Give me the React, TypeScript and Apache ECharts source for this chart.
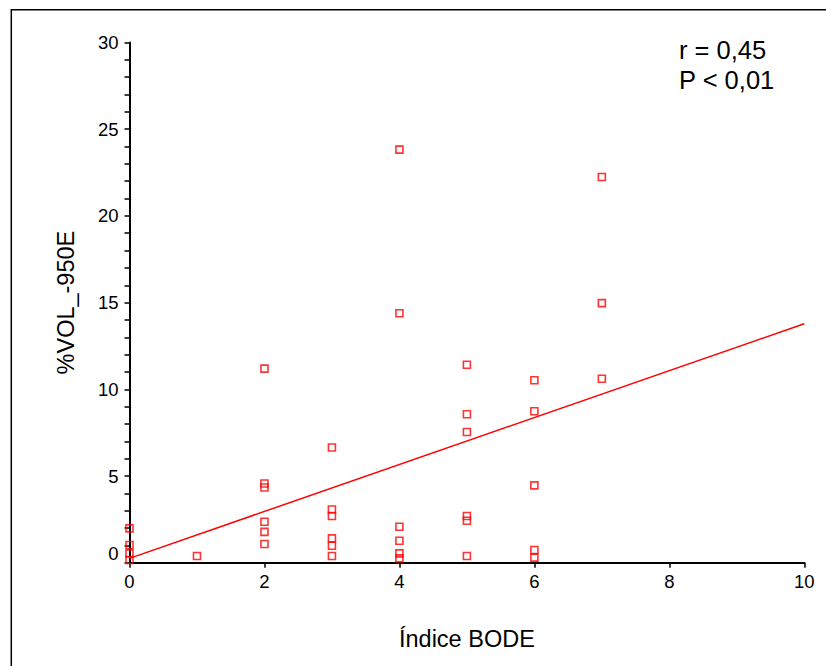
import React, { useEffect, useRef } from "react";
import * as echarts from "echarts";

// Índice BODE (x) and %VOL_-950E (y), one entry per patient
const bodeScores = [
  0, 0, 0, 0,
  1,
  2, 2, 2, 2, 2, 2,
  3, 3, 3, 3, 3, 3,
  4, 4, 4, 4, 4, 4,
  5, 5, 5, 5, 5, 5,
  6, 6, 6, 6, 6,
  7, 7, 7,
];
const volPercent = [
  1.98, 1.02, 0.54, 0.16,
  0.39,
  11.19, 4.57, 4.34, 2.36, 1.78, 1.08,
  6.64, 3.07, 2.69, 1.4, 0.98, 0.39,
  23.82, 14.39, 2.07, 1.27, 0.54, 0.25,
  11.42, 8.56, 7.54, 2.69, 2.42, 0.39,
  10.52, 8.73, 4.46, 0.73, 0.29,
  22.24, 14.97, 10.61,
];

// regression line end points
const fitX = [0, 10];
const fitY = [0.25, 13.78];

const statLines = ["r = 0,45", "P < 0,01"];
const xTitle = "Índice BODE";
const yTitle = "%VOL_-950E";

const FONT = "'Liberation Sans', Arial, sans-serif";

export default function App() {
  const ref = useRef<HTMLDivElement>(null);
  useEffect(() => {
    if (!ref.current) return;
    const chart = echarts.init(ref.current, undefined, { renderer: "svg" });
    const points = bodeScores.map((x, i) => [x, volPercent[i]]);
    const fit = fitX.map((x, i) => [x, fitY[i]]);
    chart.setOption({
      animation: false,
      backgroundColor: "#ffffff",
      grid: { left: 129.5, right: 21.7, top: 42.5, bottom: 103.3, containLabel: false },
      xAxis: {
        type: "value",
        min: 0,
        max: 10,
        interval: 2,
        name: xTitle,
        nameLocation: "middle",
        nameGap: 64,
        nameTextStyle: { fontSize: 23.5, color: "#000", fontFamily: FONT },
        axisLine: { show: true, onZero: false, lineStyle: { color: "#000", width: 2 } },
        axisTick: { show: true, length: 5, lineStyle: { color: "#000", width: 1.5 } },
        axisLabel: { fontSize: 18.5, color: "#000", fontFamily: FONT, margin: 9 },
        splitLine: { show: false },
      },
      yAxis: {
        type: "value",
        min: 0,
        max: 30,
        interval: 5,
        name: yTitle,
        nameLocation: "middle",
        nameGap: 52,
        nameTextStyle: { fontSize: 23.5, color: "#000", fontFamily: FONT },
        axisLine: { show: true, onZero: false, lineStyle: { color: "#000", width: 2 } },
        axisTick: { show: true, length: 5, lineStyle: { color: "#000", width: 1.5 } },
        minorTick: { show: true, splitNumber: 5, length: 5, lineStyle: { color: "#000", width: 1.5 } },
        axisLabel: {
          fontSize: 18.5,
          color: "#000",
          fontFamily: FONT,
          margin: 11,
          formatter: (v: number) => (v === 0 ? "{z|0}" : String(v)),
          rich: {
            z: { fontSize: 18.5, color: "#000", fontFamily: FONT, padding: [0, 0, 19, 0] },
          },
        },
        splitLine: { show: false },
        minorSplitLine: { show: false },
      },
      series: [
        {
          type: "line",
          data: fit,
          symbol: "none",
          lineStyle: { color: "#ff0000", width: 1.5 },
          z: 2,
        },
        {
          type: "scatter",
          data: points,
          symbol: "rect",
          symbolSize: 7,
          itemStyle: { color: "rgba(255,255,255,0)", borderColor: "#ff0000", borderWidth: 1.6 },
          z: 3,
        },
      ],
      graphic: [
        {
          type: "rect",
          silent: true,
          shape: { x: 11.3, y: 9.8, width: 1200, height: 1200 },
          style: { fill: "none", stroke: "#000", lineWidth: 1.5 },
        },
        {
          type: "text",
          x: 679,
          y: 50,
          style: { text: statLines[0], fontSize: 25.5, fontFamily: FONT, fill: "#000", verticalAlign: "middle", align: "left" },
        },
        {
          type: "text",
          x: 679,
          y: 80,
          style: { text: statLines[1], fontSize: 25.5, fontFamily: FONT, fill: "#000", verticalAlign: "middle", align: "left" },
        },
      ],
    });
    return () => chart.dispose();
  }, []);
  return (
    <div
      ref={ref}
      style={{ position: "absolute", left: 0, top: 0, width: 826, height: 666, background: "#fff" }}
    />
  );
}
